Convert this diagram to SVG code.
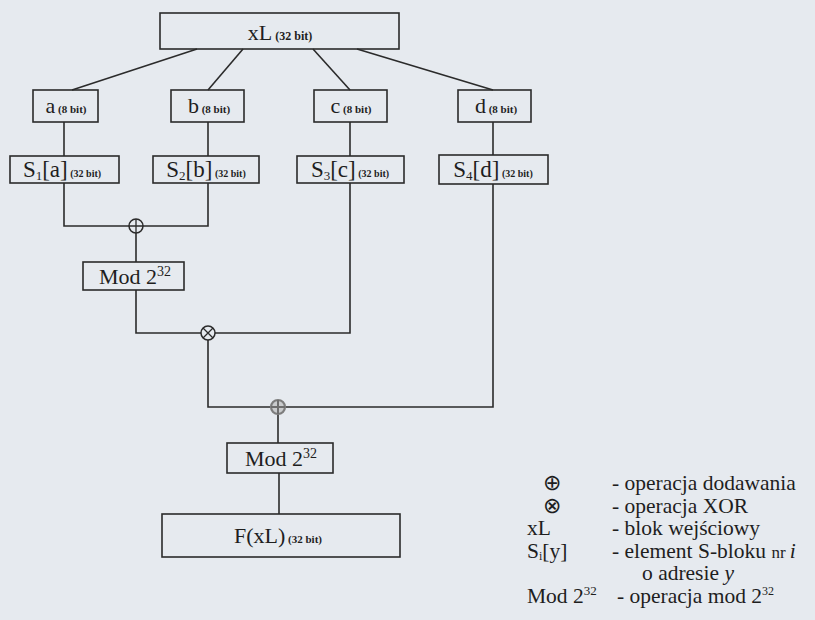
<svg xmlns="http://www.w3.org/2000/svg" width="815" height="620" viewBox="0 0 815 620">
<style>
.bg{fill:#e6eaef}
.box{fill:none;stroke:#2b2b2b;stroke-width:1.6}
.ln{fill:none;stroke:#2b2b2b;stroke-width:1.6}
.op{fill:#e6eaef;stroke:#2b2b2b;stroke-width:1.5}
.opg{fill:#c9cbcd;stroke:#7d7d7d;stroke-width:2.2}
.t{font-family:"Liberation Serif","Times New Roman",serif;fill:#1e1e1e}
.m{font-size:22px}
.sm{font-size:10px;font-weight:bold}
.lg{font-family:"Liberation Serif","Times New Roman",serif;fill:#1e1e1e;font-size:21.5px}
</style>
<rect class="bg" x="0" y="0" width="815" height="620"/>
<g id="connectors">
<path class="ln" d="M197,49 L72,90"/>
<path class="ln" d="M243,49 L208,90"/>
<path class="ln" d="M313,49 L350,90"/>
<path class="ln" d="M357,49 L493,90"/>
<path class="ln" d="M64,122 V156"/>
<path class="ln" d="M208,122 V156"/>
<path class="ln" d="M350,122 V156"/>
<path class="ln" d="M493,122 V155"/>
<path class="ln" d="M64,183 V226 H129"/>
<path class="ln" d="M208,183 V226 H143"/>
<path class="ln" d="M136,233 V262"/>
<path class="ln" d="M136,290 V333 H201"/>
<path class="ln" d="M350,183 V333 H215"/>
<path class="ln" d="M208,340 V407 H271"/>
<path class="ln" d="M493,184 V407 H285"/>
<path class="ln" d="M278,414 V443"/>
<path class="ln" d="M279,473 V514"/>
</g>
<g id="xL">
<rect class="box" x="160" y="13" width="239" height="36"/>
<text class="t" x="280" y="40" text-anchor="middle"><tspan class="m">xL</tspan><tspan class="sm" style="font-size:12px"> (32 bit)</tspan></text>
</g>
<g id="a">
<rect class="box" x="33" y="90" width="65" height="32"/>
<text class="t" x="66" y="113" text-anchor="middle"><tspan class="m">a</tspan><tspan class="sm" style="font-size:11px"> (8 bit)</tspan></text>
</g>
<g id="b">
<rect class="box" x="171" y="90" width="73" height="32"/>
<text class="t" x="209" y="113" text-anchor="middle"><tspan class="m">b</tspan><tspan class="sm" style="font-size:11px"> (8 bit)</tspan></text>
</g>
<g id="c">
<rect class="box" x="314" y="90" width="73" height="32"/>
<text class="t" x="351" y="113" text-anchor="middle"><tspan class="m">c</tspan><tspan class="sm" style="font-size:11px"> (8 bit)</tspan></text>
</g>
<g id="d">
<rect class="box" x="458" y="90" width="73" height="32"/>
<text class="t" x="496" y="113" text-anchor="middle"><tspan class="m">d</tspan><tspan class="sm" style="font-size:11px"> (8 bit)</tspan></text>
</g>
<g id="S1">
<rect class="box" x="10" y="156" width="109" height="27"/>
<text class="t" x="62" y="177" text-anchor="middle"><tspan style="font-size:23px">S</tspan><tspan style="font-size:13px" dy="3">1</tspan><tspan style="font-size:23px" dy="-3">[a]</tspan><tspan class="sm"> (32 bit)</tspan></text>
</g>
<g id="S2">
<rect class="box" x="153" y="156" width="106" height="27"/>
<text class="t" x="206" y="177" text-anchor="middle"><tspan style="font-size:23px">S</tspan><tspan style="font-size:13px" dy="3">2</tspan><tspan style="font-size:23px" dy="-3">[b]</tspan><tspan class="sm"> (32 bit)</tspan></text>
</g>
<g id="S3">
<rect class="box" x="297" y="156" width="107" height="27"/>
<text class="t" x="350" y="177" text-anchor="middle"><tspan style="font-size:23px">S</tspan><tspan style="font-size:13px" dy="3">3</tspan><tspan style="font-size:23px" dy="-3">[c]</tspan><tspan class="sm"> (32 bit)</tspan></text>
</g>
<g id="S4">
<rect class="box" x="439" y="155" width="109" height="29"/>
<text class="t" x="493" y="177" text-anchor="middle"><tspan style="font-size:23px">S</tspan><tspan style="font-size:13px" dy="3">4</tspan><tspan style="font-size:23px" dy="-3">[d]</tspan><tspan class="sm"> (32 bit)</tspan></text>
</g>
<g id="add1">
<circle class="op" cx="136" cy="226" r="7"/>
<path class="ln" style="stroke-width:1.3" d="M129,226 H143 M136,219 V233"/>
</g>
<g id="mod1">
<rect class="box" x="83" y="262" width="101" height="28"/>
<text class="t" x="135" y="284" text-anchor="middle"><tspan class="m">Mod 2</tspan><tspan style="font-size:14px" dy="-8">32</tspan></text>
</g>
<g id="xor">
<circle class="op" cx="208" cy="333" r="7"/>
<path class="ln" style="stroke-width:1.3" d="M203,328 L213,338 M213,328 L203,338"/>
</g>
<g id="add2">
<circle class="opg" cx="278" cy="407" r="7"/>
<path class="ln" style="stroke:#6e6e6e;stroke-width:2" d="M271,407 H285 M278,400 V414"/>
</g>
<g id="mod2">
<rect class="box" x="227" y="443" width="106" height="30"/>
<text class="t" x="281" y="466" text-anchor="middle"><tspan class="m">Mod 2</tspan><tspan style="font-size:14px" dy="-8">32</tspan></text>
</g>
<g id="F">
<rect class="box" x="162" y="514" width="238" height="43"/>
<text class="t" x="278" y="543" text-anchor="middle"><tspan class="m">F(xL)</tspan><tspan class="sm" style="font-size:11px"> (32 bit)</tspan></text>
</g>
<g id="legend">
<text class="lg" x="552" y="490" text-anchor="middle">⊕</text>
<text class="lg" x="612" y="490">-  operacja dodawania</text>
<text class="lg" x="552" y="513" text-anchor="middle">⊗</text>
<text class="lg" x="612" y="513">-  operacja XOR</text>
<text class="lg" x="527" y="535">xL</text>
<text class="lg" x="612" y="535">-  blok wejściowy</text>
<text class="lg" x="527" y="558">S<tspan style="font-size:12px" dy="2">i</tspan><tspan dy="-2">[y]</tspan></text>
<text class="lg" x="612" y="558">-  element S-bloku <tspan style="font-size:17px">nr </tspan><tspan font-style="italic">i</tspan></text>
<text class="lg" x="642" y="580">o adresie <tspan font-style="italic">y</tspan></text>
<text class="lg" x="527" y="603">Mod 2<tspan style="font-size:13px" dy="-8">32</tspan></text>
<text class="lg" x="617" y="603">-  operacja mod 2<tspan style="font-size:12px" dy="-8">32</tspan></text>
</g>
</svg>
